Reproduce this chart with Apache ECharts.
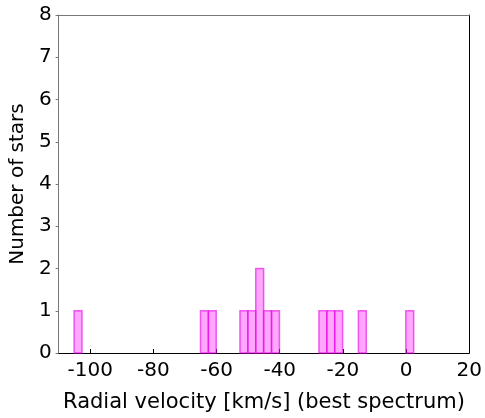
<!DOCTYPE html>
<html>
<head>
<meta charset="utf-8">
<script src="https://cdn.jsdelivr.net/npm/echarts@6/dist/echarts.min.js"></script>
<style>html,body{margin:0;padding:0;background:#fff}#c{width:485px;height:418px}</style>
</head>
<body>
<div id="c"></div>
<script>
// Histogram bins (left edges, km/s) and counts
const binLeft = [-105.1, -65.1, -62.6, -52.6, -50.1, -47.6, -45.1, -42.6, -27.6, -25.1, -22.6, -15.1, -0.1];
const counts  = [1, 1, 1, 1, 1, 2, 1, 1, 1, 1, 1, 1, 1];
const binWidth = 2.5;
const xTicks = [-100, -80, -60, -40, -20, 0, 20];
const yTicks = [0, 1, 2, 3, 4, 5, 6, 7, 8];

const data = binLeft.map((l, i) => [l, l + binWidth, counts[i]]);
const font = 'DejaVu Sans';
const chart = echarts.init(document.getElementById('c'), null, {renderer: 'canvas'});
chart.setOption({
  animation: false,
  grid: {left: 55, right: 13, top: 15, bottom: 63},
  xAxis: [{
    type: 'value', min: -110, max: 20, position: 'bottom',
    name: 'Radial velocity [km/s] (best spectrum)', nameLocation: 'middle', nameGap: 39,
    nameTextStyle: {fontFamily: font, fontSize: 21, color: '#000'},
    axisLine: {show: true, onZero: false, lineStyle: {color: '#000', width: 1}},
    axisTick: {show: true, inside: true, length: 4, customValues: xTicks, lineStyle: {color: '#000'}},
    axisLabel: {customValues: xTicks, fontFamily: font, fontSize: 20, color: '#000', margin: 8},
    splitLine: {show: false}
  }, {
    type: 'value', min: -110, max: 20, position: 'top',
    axisLine: {show: true, onZero: false, lineStyle: {color: '#777', width: 1}},
    axisTick: {show: false}, axisLabel: {show: false}, splitLine: {show: false}
  }],
  yAxis: [{
    type: 'value', min: 0, max: 8, interval: 1, position: 'left',
    name: 'Number of stars', nameLocation: 'middle', nameGap: 26,
    nameTextStyle: {fontFamily: font, fontSize: 20, color: '#000'},
    axisLine: {show: true, onZero: false, lineStyle: {color: '#777', width: 1}},
    axisTick: {show: true, length: 3, lineStyle: {color: '#777'}},
    axisLabel: {fontFamily: font, fontSize: 20, color: '#000', margin: 7},
    splitLine: {show: false}
  }, {
    type: 'value', min: 0, max: 8, interval: 1, position: 'right',
    axisLine: {show: true, onZero: false, lineStyle: {color: '#000', width: 1}},
    axisTick: {show: false}, axisLabel: {show: false}, splitLine: {show: false}
  }],
  series: [{
    type: 'custom',
    xAxisIndex: 0, yAxisIndex: 0,
    data: data,
    encode: {x: [0, 1], y: 2},
    renderItem: function (params, api) {
      const p0 = api.coord([api.value(0), 0]);
      const p1 = api.coord([api.value(1), api.value(2)]);
      return {
        type: 'rect',
        shape: {x: p0[0], y: p1[1], width: p1[0] - p0[0], height: p0[1] - p1[1]},
        style: {fill: 'rgba(255,0,255,0.35)', stroke: 'rgba(230,0,230,0.6)', lineWidth: 1.5}
      };
    }
  }]
});
</script>
</body>
</html>
